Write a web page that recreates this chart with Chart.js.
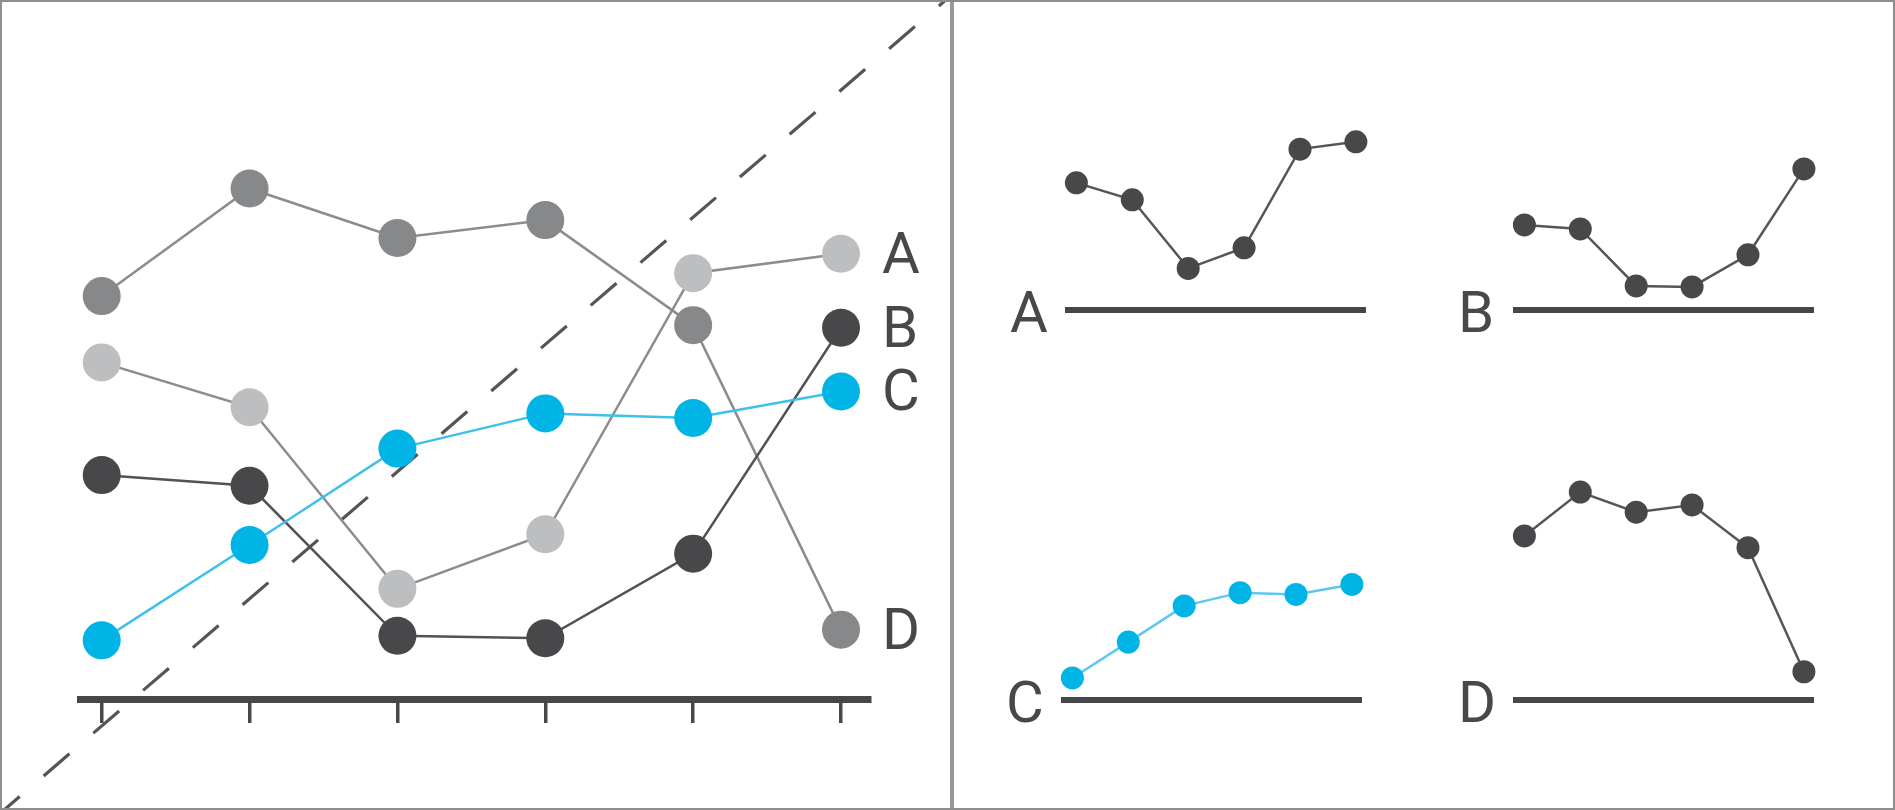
<!DOCTYPE html>
<html>
<head>
<meta charset="utf-8">
<script src="https://cdn.jsdelivr.net/npm/chart.js@4.4.1/dist/chart.umd.min.js"></script>
<style>
    html, body { margin: 0; padding: 0; background: #fff; }
    body { width: 1895px; height: 810px; position: relative; overflow: hidden; }
    canvas { position: absolute; }
    .divider { position: absolute; left: 950px; top: 0; width: 4px; height: 810px; background: #9a9a9a; }
    .frame { position: absolute; left: 0; top: 0; width: 1895px; height: 810px; box-sizing: border-box; border: 2px solid #8e8e8e; pointer-events: none; }
</style>
</head>
<body>
<canvas id="chart-main" width="950" height="810" style="left:0px;top:0px"></canvas>
<canvas id="chart-A" width="400" height="280" style="left:988px;top:70px"></canvas>
<canvas id="chart-B" width="400" height="280" style="left:1436px;top:70px"></canvas>
<canvas id="chart-C" width="400" height="280" style="left:984px;top:460px"></canvas>
<canvas id="chart-D" width="400" height="280" style="left:1436px;top:460px"></canvas>
<div class="divider"></div>
<div class="frame"></div>
<script>
// dados
const periods = [0, 1, 2, 3, 4, 5];
const seriesNames = ['A', 'B', 'C', 'D'];
const valuesA = [66.0, 57.2, 21.6, 32.3, 83.5, 87.3];
const valuesB = [43.9, 41.8, 12.4, 11.9, 28.5, 72.8];
const valuesC = [11.5, 30.2, 49.1, 56.0, 55.1, 60.3];
const valuesD = [79.0, 100.1, 90.4, 93.9, 73.3, 13.6];
// linha tracejada (diagonal de referencia), em unidades dos eixos
const diagonalX = [-0.69, 5.71];
const diagonalY = [-22.5, 137.1];
// topo do eixo y de cada grafico pequeno
const smallMax = [118.6, 117.9, 119.2, 110.0];

const DARK = '#48484a';
const BLUE = '#00b5e6';
const LABEL_FONT = '58px Roboto';

const toPoints = (values) => periods.map((p, i) => ({ x: p, y: values[i] }));

function mainSeries(tag, values, pointColor, lineColor) {
    return {
        tag: tag,
        data: toPoints(values),
        borderColor: lineColor,
        borderWidth: 2.5,
        pointRadius: 19,
        pointHoverRadius: 19,
        pointBackgroundColor: pointColor,
        pointBorderWidth: 0,
        clip: false
    };
}

// letras A-D ao lado do ultimo ponto
const seriesLabels = {
    id: 'seriesLabels',
    afterDatasetsDraw(chart) {
        const ctx = chart.ctx;
        ctx.save();
        ctx.font = LABEL_FONT;
        ctx.fillStyle = DARK;
        ctx.textAlign = 'left';
        ctx.textBaseline = 'alphabetic';
        chart.data.datasets.forEach((ds, i) => {
            if (!ds.tag) return;
            const pts = chart.getDatasetMeta(i).data;
            const last = pts[pts.length - 1];
            ctx.fillText(ds.tag, last.x + 41, last.y + 19);
        });
        ctx.restore();
    }
};

new Chart(document.getElementById('chart-main').getContext('2d'), {
    type: 'line',
    data: {
        datasets: [
            mainSeries('C', valuesC, BLUE, '#3fc0ea'),
            mainSeries('B', valuesB, DARK, '#525254'),
            mainSeries('A', valuesA, '#bdbebf', '#8c8c8c'),
            mainSeries('D', valuesD, '#87888a', '#8c8c8c'),
            {
                data: diagonalX.map((x, i) => ({ x: x, y: diagonalY[i] })),
                borderColor: '#555557',
                borderWidth: 3.2,
                borderDash: [34, 31.6],
                borderDashOffset: 7.6,
                pointRadius: 0,
                clip: false
            }
        ]
    },
    options: {
        responsive: false,
        animation: false,
        events: [],
        layout: { padding: { left: 80, right: 80, top: 189, bottom: 87 } },
        plugins: { legend: { display: false }, tooltip: { enabled: false } },
        scales: {
            x: {
                type: 'linear',
                min: -0.1468,
                max: 5.196,
                afterBuildTicks: (axis) => { axis.ticks = periods.map(v => ({ value: v })); },
                ticks: { display: false },
                grid: {
                    drawOnChartArea: false,
                    drawTicks: true,
                    tickLength: 24,
                    tickWidth: 3.5,
                    tickColor: '#48484a',
                    lineWidth: 3.5,
                    color: '#48484a'
                },
                border: { display: true, width: 7, color: '#474749' }
            },
            y: { display: false, min: 0, max: 100 }
        }
    },
    plugins: [seriesLabels]
});

// pequenos multiplos
const smallLetter = {
    id: 'smallLetter',
    afterDraw(chart) {
        const ctx = chart.ctx;
        const base = chart.scales.y.getPixelForValue(0);
        ctx.save();
        ctx.font = LABEL_FONT;
        ctx.fillStyle = DARK;
        ctx.textAlign = 'left';
        ctx.textBaseline = 'alphabetic';
        ctx.fillText(chart.options.letter, chart.chartArea.left - 58, base + 21.5);
        ctx.restore();
    }
};

function smallChart(name, values, yMax) {
    const isBlue = name === 'C';
    new Chart(document.getElementById('chart-' + name).getContext('2d'), {
        type: 'line',
        data: {
            datasets: [{
                data: toPoints(values),
                borderColor: isBlue ? '#5cc8ee' : '#565658',
                borderWidth: 2.5,
                pointRadius: 11.5,
                pointHoverRadius: 11.5,
                pointBackgroundColor: isBlue ? BLUE : DARK,
                pointBorderWidth: 0,
                clip: false
            }]
        },
        options: {
            letter: name,
            responsive: false,
            animation: false,
            events: [],
            layout: { padding: { left: 80, right: 22.6, top: 10, bottom: 40 } },
            plugins: { legend: { display: false }, tooltip: { enabled: false } },
            scales: {
                x: {
                    type: 'linear',
                    min: -0.15,
                    max: 5.17,
                    ticks: { display: false },
                    grid: { display: false, drawTicks: false },
                    border: { display: true, width: 6, color: '#474749' }
                },
                y: { display: false, min: 0, max: yMax }
            }
        },
        plugins: [smallLetter]
    });
}

smallChart('A', valuesA, smallMax[0]);
smallChart('B', valuesB, smallMax[1]);
smallChart('C', valuesC, smallMax[2]);
smallChart('D', valuesD, smallMax[3]);
</script>
</body>
</html>
